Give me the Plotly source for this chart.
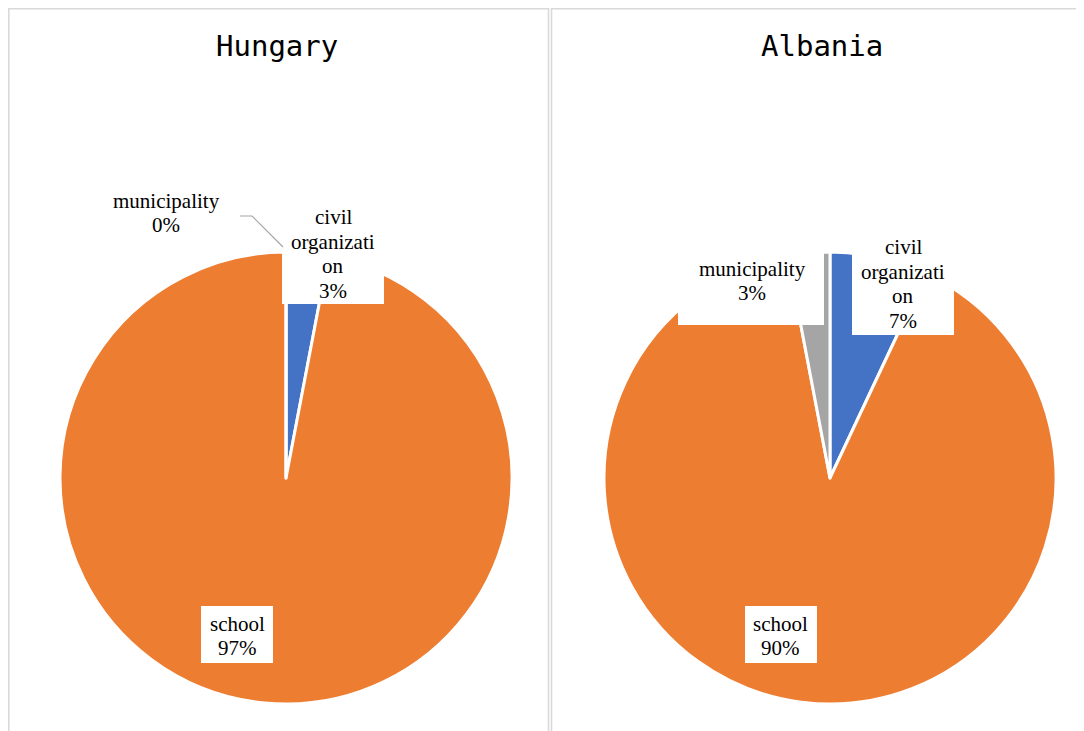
import plotly.graph_objects as go

# ---- data ----
categories = ["civil organization", "school", "municipality"]
category_lines = [["civil", "organizati", "on"], ["school"], ["municipality"]]
hungary_values = [3, 97, 0]
albania_values = [7, 90, 3]
countries = ["Hungary", "Albania"]
colors = ["#4472C4", "#ED7D31", "#A5A5A5"]

W, H = 1084, 731
OFF = 8  # page body margin of the browser


def px(x):
    return (x - OFF) / W


def py(y):
    return 1 - (y - OFF) / H


fig = go.Figure()

# pie geometry (pixels): centre x, centre y, radius
pies = [(286, 478, 226), (830, 478, 226)]
for (cx, cy, r), name, vals in zip(pies, countries, [hungary_values, albania_values]):
    fig.add_trace(go.Pie(
        labels=categories,
        values=vals,
        name=name,
        sort=False,
        direction="clockwise",
        rotation=0,
        textinfo="none",
        marker=dict(colors=colors, line=dict(color="white", width=3)),
        domain=dict(x=[px(cx - r), px(cx + r)], y=[py(cy + r), py(cy - r)]),
        showlegend=False,
    ))

# panel borders
fig.add_shape(type="rect", xref="paper", yref="paper",
              x0=px(8.8), x1=px(548.5), y0=py(745), y1=py(8.8),
              line=dict(color="#D9D9D9", width=1.6), layer="below")
fig.add_shape(type="rect", xref="paper", yref="paper",
              x0=px(551.5), x1=px(1100), y0=py(745), y1=py(8.8),
              line=dict(color="#D9D9D9", width=1.6), layer="below")

# titles
title_pos = [(277, 46), (822, 46)]
for (tx, ty), name in zip(title_pos, countries):
    fig.add_annotation(text=name, x=px(tx), y=py(ty), xref="paper", yref="paper",
                       showarrow=False, xanchor="center", yanchor="middle",
                       font=dict(family="DejaVu Sans Mono", size=29, color="#000000"))

# data labels: (country index, category index, text centre x, text centre y, box x0, y0, x1, y1)
label_boxes = [
    (0, 0, 333, 254, 282, 200, 384, 304),
    (0, 1, 237, 636, 201, 606, 273, 663),
    (0, 2, 166, 213, None, None, None, None),
    (1, 0, 903, 284, 852, 230, 954, 335),
    (1, 1, 781, 636, 745, 606, 817, 663),
    (1, 2, 752, 281, 678, 237, 824, 325),
]
all_vals = [hungary_values, albania_values]
LINE = 24.5
for ci, k, lx, ly, bx0, by0, bx1, by1 in label_boxes:
    if bx0 is not None:
        fig.add_shape(type="rect", xref="paper", yref="paper",
                      x0=px(bx0), x1=px(bx1), y0=py(by1), y1=py(by0),
                      fillcolor="white", line=dict(width=0), layer="above")
    lines = category_lines[k] + [f"{all_vals[ci][k]}%"]
    n = len(lines)
    for i, t in enumerate(lines):
        yy = ly + (i - (n - 1) / 2) * LINE
        fig.add_annotation(text=t, x=px(lx), y=py(yy), xref="paper", yref="paper",
                           showarrow=False, xanchor="center", yanchor="middle",
                           font=dict(family="Liberation Serif", size=21, color="#000000"))

# leader line for Hungary municipality 0%
fig.add_shape(type="path", xref="paper", yref="paper",
              path=f"M {px(240)} {py(216)} L {px(252)} {py(216)} L {px(283)} {py(247)}",
              line=dict(color="#A5A5A5", width=1.2), layer="above")

fig.update_layout(width=W, height=H, margin=dict(l=0, r=0, t=0, b=0),
                  paper_bgcolor="white", plot_bgcolor="white")

fig.write_html("out.html")
